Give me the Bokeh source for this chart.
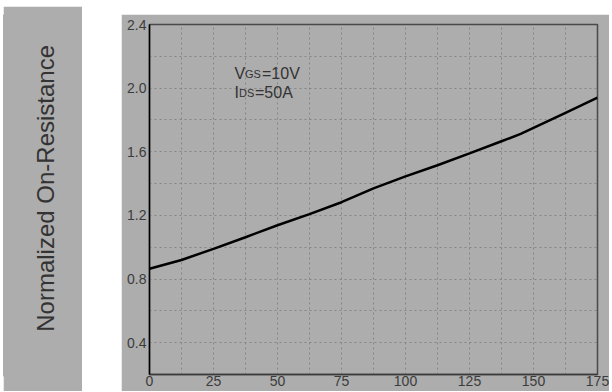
import math
from bokeh.plotting import figure
from bokeh.layouts import row
from bokeh.models import FixedTicker, NumeralTickFormatter, ColumnDataSource
from bokeh.core.properties import value
from bokeh.embed import file_html
from bokeh.resources import INLINE

# ---- data ----
temperature = [0, 12.5, 25, 37.5, 50, 62.5, 75, 87.5, 100, 112.5, 125, 137.5, 145, 162.5, 175]
normalized_rds = [0.865, 0.92, 0.99, 1.063, 1.138, 1.208, 1.283, 1.37, 1.445, 1.515, 1.59, 1.666, 1.712, 1.845, 1.94]

x_ticks = [0, 25, 50, 75, 100, 125, 150, 175]
y_ticks = [0.4, 0.8, 1.2, 1.6, 2.0, 2.4]
x_grid = [0, 12.5, 25, 37.5, 50, 62.5, 75, 87.5, 100, 112.5, 125, 137.5, 150, 162.5, 175]
y_grid = [0.2, 0.4, 0.6, 0.8, 1.0, 1.2, 1.4, 1.6, 1.8, 2.0, 2.2, 2.4]

y_label = "Normalized On-Resistance"
ann_main = ["V", "I"]
ann_sub = ["GS", "DS"]
ann_rest = ["=10V", "=50A"]
ann_x = [33.2, 33.2]
ann_y = [2.089, 1.97]

GRAY = "#adadad"
TXT = "#333333"
FONT = "Liberation Sans"

# ---- left label panel ----
lp = figure(width=79, height=385, x_range=(0, 1), y_range=(0, 1),
            x_axis_type=None, y_axis_type=None,
            output_backend="svg", toolbar_location=None,
            min_border=0, min_border_left=0, min_border_right=0,
            min_border_top=0, min_border_bottom=0)
lp.margin = (6, 0, 0, 3)
lp.background_fill_color = GRAY
lp.border_fill_color = GRAY
lp.outline_line_color = GRAY
lp.outline_line_width = 4
lp.grid.visible = False
lp.title.visible = False
lp.text(x=[0.53], y=[0.52], text=[y_label], angle=math.pi / 2,
        text_align="center", text_baseline="middle",
        text_font=value(FONT), text_font_size="24px", text_color=TXT)

# ---- main chart ----
p = figure(width=488, height=377, x_range=(0, 175), y_range=(0.2, 2.4),
           output_backend="svg", toolbar_location=None,
           min_border_left=28, min_border_right=12,
           min_border_top=10, min_border_bottom=17)
p.margin = (14, 0, 0, 39)
p.background_fill_color = GRAY
p.border_fill_color = GRAY
p.outline_line_color = "#4a4a4a"
p.outline_line_width = 1.5

p.xaxis.ticker = FixedTicker(ticks=x_ticks)
p.yaxis.ticker = FixedTicker(ticks=y_ticks)
p.yaxis.formatter = NumeralTickFormatter(format="0.0")
p.xaxis.formatter = NumeralTickFormatter(format="0")
for ax in (p.xaxis, p.yaxis):
    ax.major_tick_out = 0
    ax.major_tick_in = 0
    ax.minor_tick_out = 0
    ax.minor_tick_in = 0
    ax.major_label_text_font = FONT
    ax.major_label_text_font_size = "14px"
    ax.major_label_text_color = "#3c3c3c"
p.yaxis.axis_line_color = "black"
p.yaxis.axis_line_width = 1.5
p.yaxis.major_label_standoff = 3
p.xaxis.axis_line_color = "#3a3a3a"
p.xaxis.axis_line_width = 1.5
p.xaxis.major_label_standoff = 1

p.xgrid.ticker = FixedTicker(ticks=x_grid)
p.ygrid.ticker = FixedTicker(ticks=y_grid)
p.grid.grid_line_color = "#858585"
p.grid.grid_line_dash = "2 3"
p.grid.grid_line_width = 1

p.line(temperature, normalized_rds, line_color="black", line_width=2.5)

src = ColumnDataSource(dict(x=ann_x, y=ann_y, main=ann_main, sub=ann_sub, rest=ann_rest,
                            off_sub=[10.5, 4.5], off_rest=[27.5, 20.5]))
p.text(x="x", y="y", text="main", source=src, text_align="left", text_baseline="alphabetic",
       text_font=value(FONT), text_font_size="16px", text_color=TXT)
p.text(x="x", y="y", text="sub", source=src, x_offset="off_sub", text_align="left",
       text_baseline="alphabetic", text_font=value(FONT), text_font_size="11px", text_color=TXT)
p.text(x="x", y="y", text="rest", source=src, x_offset="off_rest", text_align="left",
       text_baseline="alphabetic", text_font=value(FONT), text_font_size="16px", text_color=TXT)

layout = row(lp, p)
open("out.html", "w").write(file_html(layout, INLINE))
